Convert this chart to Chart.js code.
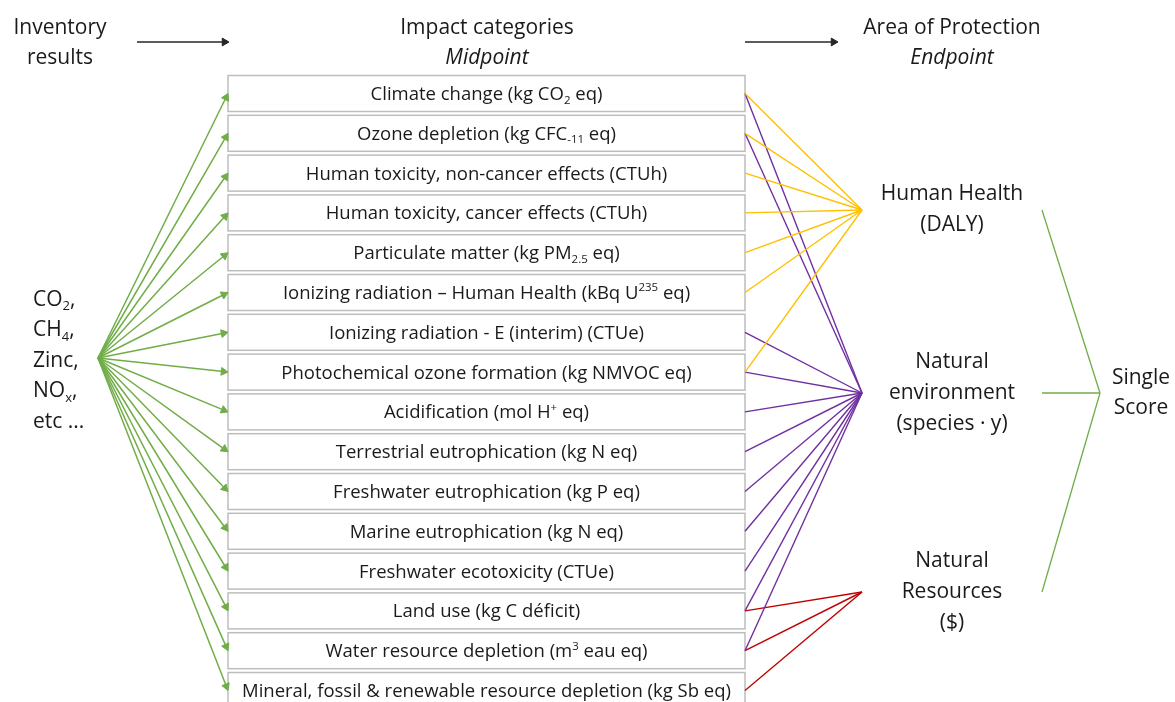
<!DOCTYPE html>
<html lang="en">
<head>
  <meta charset="UTF-8" />
  <title>Impact categories – Midpoint to Endpoint</title>
  <script src="https://cdn.jsdelivr.net/npm/chart.js"></script>
  <style>
    body { margin: 0; background: #fff; }
    #wrap { position: relative; width: 1175px; height: 702px; }
  </style>
</head>
<body>
  <div id="wrap"><canvas id="lcia"></canvas></div>
  <script>
    // data: midpoint categories, endpoint areas and links between them
    // "_{..}" = subscript, "^{..}" = superscript
    const categories = [
      'Climate change (kg CO_{2} eq)',
      'Ozone depletion (kg CFC_{-11} eq)',
      'Human toxicity, non-cancer effects (CTUh)',
      'Human toxicity, cancer effects (CTUh)',
      'Particulate matter (kg PM_{2.5} eq)',
      'Ionizing radiation – Human Health (kBq U^{235} eq)',
      'Ionizing radiation - E (interim) (CTUe)',
      'Photochemical ozone formation (kg NMVOC eq)',
      'Acidification (mol H^{+} eq)',
      'Terrestrial eutrophication (kg N eq)',
      'Freshwater eutrophication (kg P eq)',
      'Marine eutrophication (kg N eq)',
      'Freshwater ecotoxicity (CTUe)',
      'Land use (kg C déficit)',
      'Water resource depletion (m^{3} eau eq)',
      'Mineral, fossil & renewable resource depletion (kg Sb eq)'
    ];
    const endpoints = [
      ['Human Health', '(DALY)'],
      ['Natural', 'environment', '(species · y)'],
      ['Natural', 'Resources', '($)']
    ];
    const humanHealthLinks = [0, 1, 2, 3, 4, 5, 7];
    const environmentLinks = [0, 1, 6, 7, 8, 9, 10, 11, 12, 13, 14];
    const resourceLinks = [13, 14, 15];
    const inventoryItems = ['CO_{2},', 'CH_{4},', 'Zinc,', 'NO_{x},', 'etc ...'];
    const headers = [['Inventory', 'results'], ['Impact categories', '*Midpoint'], ['Area of Protection', '*Endpoint']];
    const singleScore = ['Single', 'Score'];

    // layout (data units = pixels on a 1175 x 702 plane)
    const boxLeft = 228, boxRight = 745, rowTop = 93.5, rowStep = 39.8, boxH = 36;
    const source = { x: 98, y: 358 };
    const nodeX = 862, nodeY = [210, 393, 592];
    const labelX = 952, headerX = [60, 487, 952];
    const scoreFrom = 1042, scoreTo = 1100;
    const linkColors = ['#FFC000', '#7030A0', '#C00000'];
    const green = '#70AD47', ink = '#1a1a1a';
    const FONT = '"Open Sans", "Noto Sans", sans-serif';

    const rowY = i => rowTop + i * rowStep;

    // 線分データセット (矢印はtriangleポイントで描く)
    function segment(a, b, color, width, arrow) {
      const ang = Math.atan2(b.y - a.y, b.x - a.x);
      const r = 4.5;
      const end = arrow ? { x: b.x - Math.cos(ang) * r, y: b.y - Math.sin(ang) * r } : b;
      return {
        type: 'line',
        data: [a, end],
        borderColor: color,
        borderWidth: width,
        pointRadius: arrow ? [0, r] : 0,
        pointStyle: 'triangle',
        pointRotation: [0, ang * 180 / Math.PI + 90],
        pointBackgroundColor: color,
        pointBorderColor: color,
        pointBorderWidth: 1,
        fill: false,
        tension: 0,
        clip: false
      };
    }

    const datasets = [];
    categories.forEach((c, i) => {
      datasets.push(segment(source, { x: boxLeft, y: rowY(i) }, green, 1.5, true));
    });
    [humanHealthLinks, environmentLinks, resourceLinks].forEach((links, k) => {
      links.forEach(i => {
        datasets.push(segment({ x: boxRight, y: rowY(i) }, { x: nodeX, y: nodeY[k] }, linkColors[k], 1.4, false));
      });
    });
    nodeY.forEach(y => {
      datasets.push(segment({ x: scoreFrom, y: y }, { x: scoreTo, y: nodeY[1] }, green, 1.3, false));
    });
    datasets.push(segment({ x: 137, y: 42 }, { x: 229, y: 42 }, '#262626', 1.5, true));
    datasets.push(segment({ x: 745, y: 42 }, { x: 838, y: 42 }, '#262626', 1.5, true));

    // 下付き・上付き対応のテキスト描画
    function drawRich(ctx, str, x, y, size, align, italic) {
      const style = italic ? 'italic ' : '';
      const parts = [];
      const re = /([_^])\{([^}]*)\}/g;
      let last = 0, m;
      while ((m = re.exec(str)) !== null) {
        if (m.index > last) parts.push({ t: str.slice(last, m.index), k: '' });
        parts.push({ t: m[2], k: m[1] });
        last = re.lastIndex;
      }
      if (last < str.length) parts.push({ t: str.slice(last), k: '' });
      const small = size * 0.62;
      parts.forEach(p => {
        ctx.font = style + (p.k ? small : size) + 'px ' + FONT;
        p.w = ctx.measureText(p.t).width;
      });
      const total = parts.reduce((s, p) => s + p.w, 0);
      let cx = align === 'center' ? x - total / 2 : x;
      ctx.textAlign = 'left';
      ctx.textBaseline = 'middle';
      parts.forEach(p => {
        ctx.font = style + (p.k ? small : size) + 'px ' + FONT;
        const dy = p.k === '_' ? size * 0.3 : p.k === '^' ? -size * 0.3 : 0;
        ctx.fillText(p.t, cx, y + dy);
        cx += p.w;
      });
    }

    const diagramPlugin = {
      id: 'diagram',
      beforeDatasetsDraw(chart) {
        const { ctx, scales: { x, y } } = chart;
        ctx.save();
        ctx.lineWidth = 1.5;
        ctx.strokeStyle = '#BDBDBD';
        ctx.fillStyle = '#fff';
        categories.forEach((c, i) => {
          const l = x.getPixelForValue(boxLeft), r = x.getPixelForValue(boxRight);
          const t = y.getPixelForValue(rowY(i) - boxH / 2), b = y.getPixelForValue(rowY(i) + boxH / 2);
          ctx.fillRect(l, t, r - l, b - t);
          ctx.strokeRect(l, t, r - l, b - t);
        });
        ctx.restore();
      },
      afterDraw(chart) {
        const { ctx, scales: { x, y } } = chart;
        ctx.save();
        ctx.fillStyle = ink;
        // box labels
        categories.forEach((c, i) => {
          drawRich(ctx, c, x.getPixelForValue((boxLeft + boxRight) / 2), y.getPixelForValue(rowY(i) + 1.2), 18.5, 'center');
        });
        // column headers
        headers.forEach((h, k) => {
          h.forEach((line, j) => {
            const it = line.startsWith('*');
            drawRich(ctx, it ? line.slice(1) : line, x.getPixelForValue(headerX[k]), y.getPixelForValue(28 + j * 30), 21, 'center', it);
          });
        });
        // inventory
        inventoryItems.forEach((s, j) => {
          drawRich(ctx, s, x.getPixelForValue(33), y.getPixelForValue(source.y - 58 + j * 30.5), 21, 'left');
        });
        // endpoints
        endpoints.forEach((lines, k) => {
          const step = 31, top = nodeY[k] - (lines.length - 1) * step / 2;
          lines.forEach((s, j) => {
            drawRich(ctx, s, x.getPixelForValue(labelX), y.getPixelForValue(top + j * step), 21, 'center');
          });
        });
        singleScore.forEach((s, j) => {
          drawRich(ctx, s, x.getPixelForValue(1141), y.getPixelForValue(nodeY[1] - 15 + j * 30), 21, 'center');
        });
        ctx.restore();
      }
    };

    new Chart(document.getElementById('lcia'), {
      type: 'scatter',
      data: { datasets: datasets },
      options: {
        responsive: true,
        maintainAspectRatio: false,
        animation: false,
        events: [],
        layout: { padding: 0, autoPadding: false },
        scales: {
          x: { type: 'linear', min: 0, max: 1175, display: false },
          y: { type: 'linear', min: 0, max: 702, reverse: true, display: false }
        },
        plugins: { legend: { display: false }, tooltip: { enabled: false } },
        showLine: true
      },
      plugins: [diagramPlugin]
    });
  </script>
</body>
</html>
